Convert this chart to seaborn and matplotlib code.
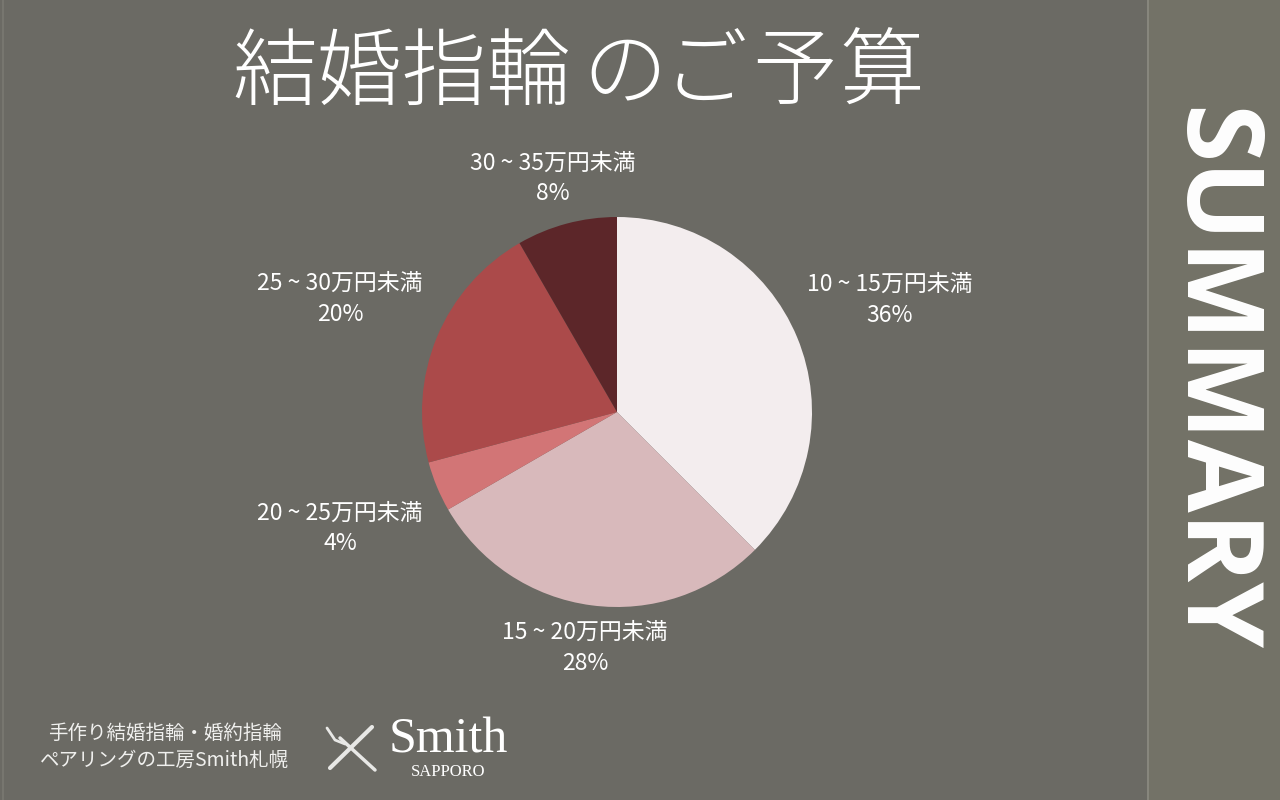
import matplotlib
matplotlib.use("Agg")
import matplotlib.pyplot as plt
import seaborn as sns
from matplotlib.lines import Line2D
from matplotlib.patches import Rectangle

# ---- data ----
categories = ["10～15万円未満", "15～20万円未満", "20～25万円未満", "25～30万円未満", "30～35万円未満"]
display_labels = ["10 ~ 15万円未満", "15 ~ 20万円未満", "20 ~ 25万円未満", "25 ~ 30万円未満", "30 ~ 35万円未満"]
values = [36, 28, 4, 20, 8]
pct_labels = ["36%", "28%", "4%", "20%", "8%"]
colors = ["#f3edee", "#d8b9bb", "#d27576", "#ab4a4a", "#5c2629"]

title_parts = ["結婚指輪", "の", "ご", "予", "算"]
footer_lines = ["手作り結婚指輪・婚約指輪", "ペアリングの工房Smith札幌"]

sns.set_theme(style="white")
plt.rcParams['font.family'] = ['Noto Sans CJK JP', 'DejaVu Sans']

BG = "#6b6a64"
W, H = 1280, 800
fig = plt.figure(figsize=(12.8, 8), dpi=100, facecolor=BG)

def fx(px):
    return px / W

def fy(py):
    return 1 - py / H

# right strip
fig.patches.append(Rectangle((fx(1147), 0), fx(133), 1, transform=fig.transFigure,
                             facecolor="#737267", edgecolor="none", zorder=0))
fig.add_artist(Line2D([fx(1147.5), fx(1147.5)], [0, 1], transform=fig.transFigure,
                      color="#8c8b82", lw=1.2))
fig.add_artist(Line2D([fx(2.5), fx(2.5)], [0, 1], transform=fig.transFigure,
                      color="#7a7972", lw=1.2))

# pie
cx, cy, r = 617, 412, 195
ax = fig.add_axes([fx(cx - r), fy(cy + r), fx(2 * r), (2 * r) / H])
ax.set_facecolor("none")
ax.pie(values, colors=colors, startangle=90, counterclock=False,
       wedgeprops=dict(linewidth=0), radius=1.0)
ax.set_xlim(-1, 1)
ax.set_ylim(-1, 1)
ax.set_aspect("auto")
ax.axis("off")

# label positions (pixel centers)
label_pos = [(890, 299), (585, 647), (340, 528), (340, 298), (553, 178)]
for (px, py), lab, pct in zip(label_pos, display_labels, pct_labels):
    fig.text(fx(px), fy(py - 15), lab, ha="center", va="center", color="white", fontsize=16.5)
    fig.text(fx(px), fy(py + 16), pct, ha="center", va="center", color="white", fontsize=16.5)

# title
title_x = [402, 625, 705, 795, 882]
for t, x in zip(title_parts, title_x):
    fig.text(fx(x), fy(75), t, ha="center", va="center", color="white",
             fontsize=61, fontweight="light")

# SUMMARY vertical
fig.text(fx(1210), fy(380), "SUMMARY", rotation=-90, ha="center", va="center",
         color="white", fontsize=76, fontweight="bold",
         family=["Open Sans", "Roboto", "DejaVu Sans"])

# footer
fig.text(fx(165), fy(733), footer_lines[0], ha="center", va="center", color="#f0f0ee", fontsize=14)
fig.text(fx(165), fy(760), footer_lines[1], ha="center", va="center", color="#f0f0ee", fontsize=14)

# logo
fig.add_artist(Line2D([fx(330), fx(372)], [fy(768), fy(727)], transform=fig.transFigure,
                      color="#e8e8e6", lw=3, solid_capstyle="round"))
fig.add_artist(Line2D([fx(340), fx(375)], [fy(738), fy(770)], transform=fig.transFigure,
                      color="#e8e8e6", lw=2.5, solid_capstyle="round"))
fig.add_artist(Line2D([fx(327), fx(335), fx(345)], [fy(728), fy(740), fy(744)], transform=fig.transFigure,
                      color="#e8e8e6", lw=2, solid_capstyle="round"))
fig.text(fx(448), fy(740), "Smith", ha="center", va="center", color="white",
         fontsize=36, family=["Liberation Serif", "DejaVu Serif"])
fig.text(fx(448), fy(772), "SAPPORO", ha="center", va="center", color="white",
         fontsize=12, family=["Liberation Serif", "DejaVu Serif"])

fig.savefig("out.png", dpi=100, facecolor=BG)
